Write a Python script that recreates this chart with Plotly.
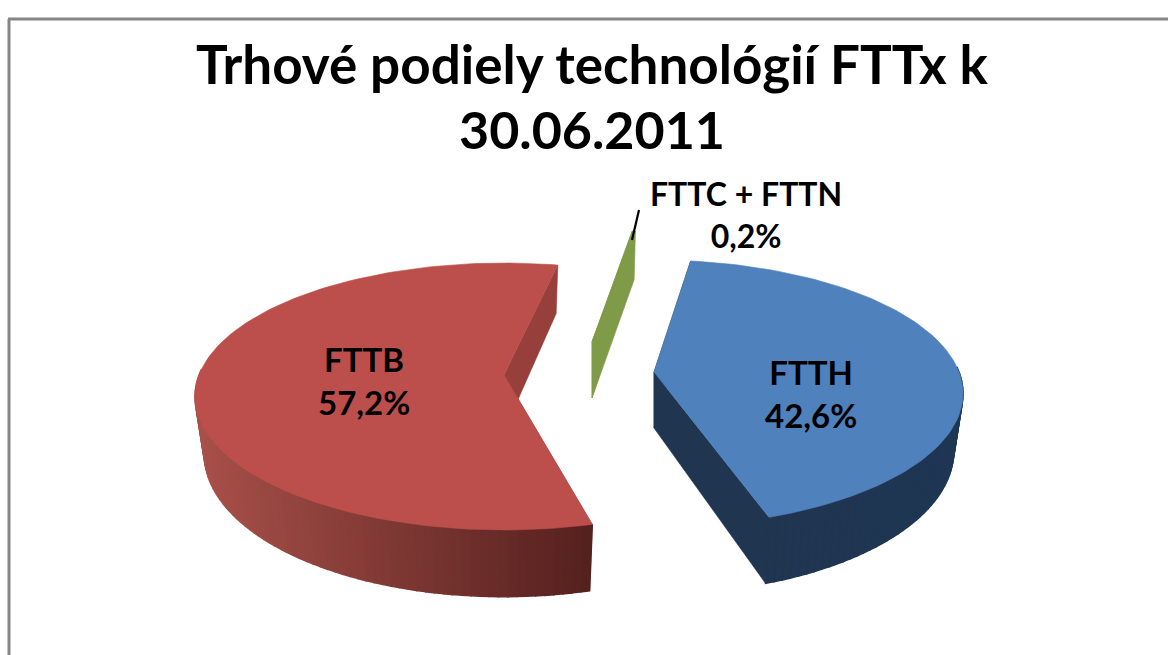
import math
import plotly.graph_objects as go

# ---- data ----
categories = ["FTTH", "FTTB", "FTTC + FTTN"]
shares = [42.6, 57.2, 0.2]
share_labels = ["42,6%", "57,2%", "0,2%"]
title_lines = ["Trhové podiely technológií FTTx k", "30.06.2011"]

# ---- style / projection ----
FIRST_ANGLE = 8.0
TOP = {"FTTH": "#4f81bd", "FTTC + FTTN": "#7f9b48", "FTTB": "#bc4f4c"}
WALL = {"FTTH": "#1f3550", "FTTC + FTTN": "#7f9b48", "FTTB": "#963f3b"}
RIM_LEFT = {"FTTH": "#1f3550", "FTTC + FTTN": "#7f9b48", "FTTB": "#a85049"}
RIM_RIGHT = {"FTTH": "#1f3654", "FTTC + FTTN": "#7f9b48", "FTTB": "#54201e"}
APEX = {"FTTH": (654, 372), "FTTC + FTTN": (592, 342), "FTTB": (504, 375)}
NUDGE = {"FTTH": 0.0, "FTTC + FTTN": 1.5, "FTTB": 4.5}
A, B, K, DEPTH, BOTTOM_SCALE = 305.0, 130.0, 0.161, 56.0, 0.97


def proj(name, theta, r=1.0, bottom=False):
    t = math.radians(theta)
    X, Y = r * math.sin(t), r * math.cos(t)
    f = 1.0 / (1.0 + K * Y)
    ax, ay = APEX[name]
    sx = A * X * f * (BOTTOM_SCALE if bottom else 1.0)
    sy = -B * Y * f + (DEPTH * f if bottom else 0.0)
    return ax + sx, ay + sy


def mix(c1, c2, u):
    a = [int(c1[i:i + 2], 16) for i in (1, 3, 5)]
    b = [int(c2[i:i + 2], 16) for i in (1, 3, 5)]
    return "#%02x%02x%02x" % tuple(round(p + (q - p) * u) for p, q in zip(a, b))


def poly(fig, pts, color, lw=0.6):
    xs = [p[0] for p in pts] + [pts[0][0]]
    ys = [p[1] for p in pts] + [pts[0][1]]
    fig.add_trace(go.Scatter(x=xs, y=ys, mode="lines", fill="toself", fillcolor=color,
                             line=dict(color=color, width=lw), hoverinfo="skip", showlegend=False))


fig = go.Figure()

# slice angle spans come straight from the values
total = sum(shares)
spans = {}
cursor = FIRST_ANGLE
for name, v in zip(categories, shares):
    d = v / total * 360.0
    spans[name] = (cursor + NUDGE[name], cursor + d + NUDGE[name])
    cursor += d

for name in ["FTTB", "FTTC + FTTN", "FTTH"]:
    a0, a1 = spans[name]
    # cut walls
    for th in (a0, a1):
        poly(fig, [proj(name, th, 0), proj(name, th), proj(name, th, 1, True), proj(name, th, 0, True)], WALL[name])
    # rim bands, shaded left-to-right (only the part that faces the viewer)
    n = max(2, int((a1 - a0) / 1.5))
    thetas = [a0 + (a1 - a0) * i / n for i in range(n + 1)]
    front = [t for t in thetas if math.cos(math.radians(t)) < 0.05]
    if front:
        xleft = min(proj(name, t)[0] for t in front)
        xright = max(proj(name, t)[0] for t in front)
    for i in range(n):
        t0, t1 = thetas[i], thetas[i + 1]
        if math.cos(math.radians((t0 + t1) / 2)) >= 0.05:
            continue
        xm = (proj(name, t0)[0] + proj(name, t1)[0]) / 2
        u = (xm - xleft) / max(1.0, xright - xleft)
        poly(fig, [proj(name, t0), proj(name, t1), proj(name, t1, 1, True), proj(name, t0, 1, True)],
             mix(RIM_LEFT[name], RIM_RIGHT[name], u), lw=1.5)
    # top surface
    m = max(2, int((a1 - a0) / 1.5))
    pts = [proj(name, a0, 0)] + [proj(name, a0 + (a1 - a0) * i / m) for i in range(m + 1)]
    poly(fig, pts, TOP[name])

# leader line for the tiny slice
fig.add_shape(type="line", x0=632, y0=240, x1=639, y1=210, line=dict(color="#000000", width=2.2))

LABEL_POS = {"FTTH": (811, 393), "FTTC + FTTN": (746, 214), "FTTB": (364, 380)}
LABEL_SIZE = {"FTTH": 33, "FTTC + FTTN": 32, "FTTB": 33}
for name, lab in zip(categories, share_labels):
    x, y = LABEL_POS[name]
    fig.add_annotation(x=x, y=y, text=f"{name}<br>{lab}", showarrow=False, xanchor="center", yanchor="middle",
                       font=dict(family="Lato", size=LABEL_SIZE[name], color="#000000", weight="bold"))

fig.add_annotation(x=592, y=129, text=title_lines[1], showarrow=False, xanchor="center", yanchor="middle",
                   font=dict(family="Lato", size=52, color="#000000", weight="bold"))

fig.update_layout(
    width=1168, height=655, margin=dict(l=0, r=0, t=0, b=0),
    paper_bgcolor="#ffffff", plot_bgcolor="#ffffff", showlegend=False,
    title=dict(text=title_lines[0], x=592 / 1168, xanchor="center", y=1 - 65 / 655, yanchor="middle",
               font=dict(family="Lato", size=53, color="#000000", weight="bold")),
    xaxis=dict(range=[0, 1168], visible=False, fixedrange=True),
    yaxis=dict(range=[655, 0], visible=False, fixedrange=True),
    shapes=list(fig.layout.shapes) + [
        dict(type="line", x0=9, y0=19, x1=9, y1=655, line=dict(color="#868686", width=3)),
        dict(type="line", x0=8, y0=19, x1=1168, y1=19, line=dict(color="#868686", width=3)),
    ],
)
fig.write_html("out.html", config={"displayModeBar": False},
               post_script="document.body.style.margin='0';document.body.style.overflow='hidden';")
